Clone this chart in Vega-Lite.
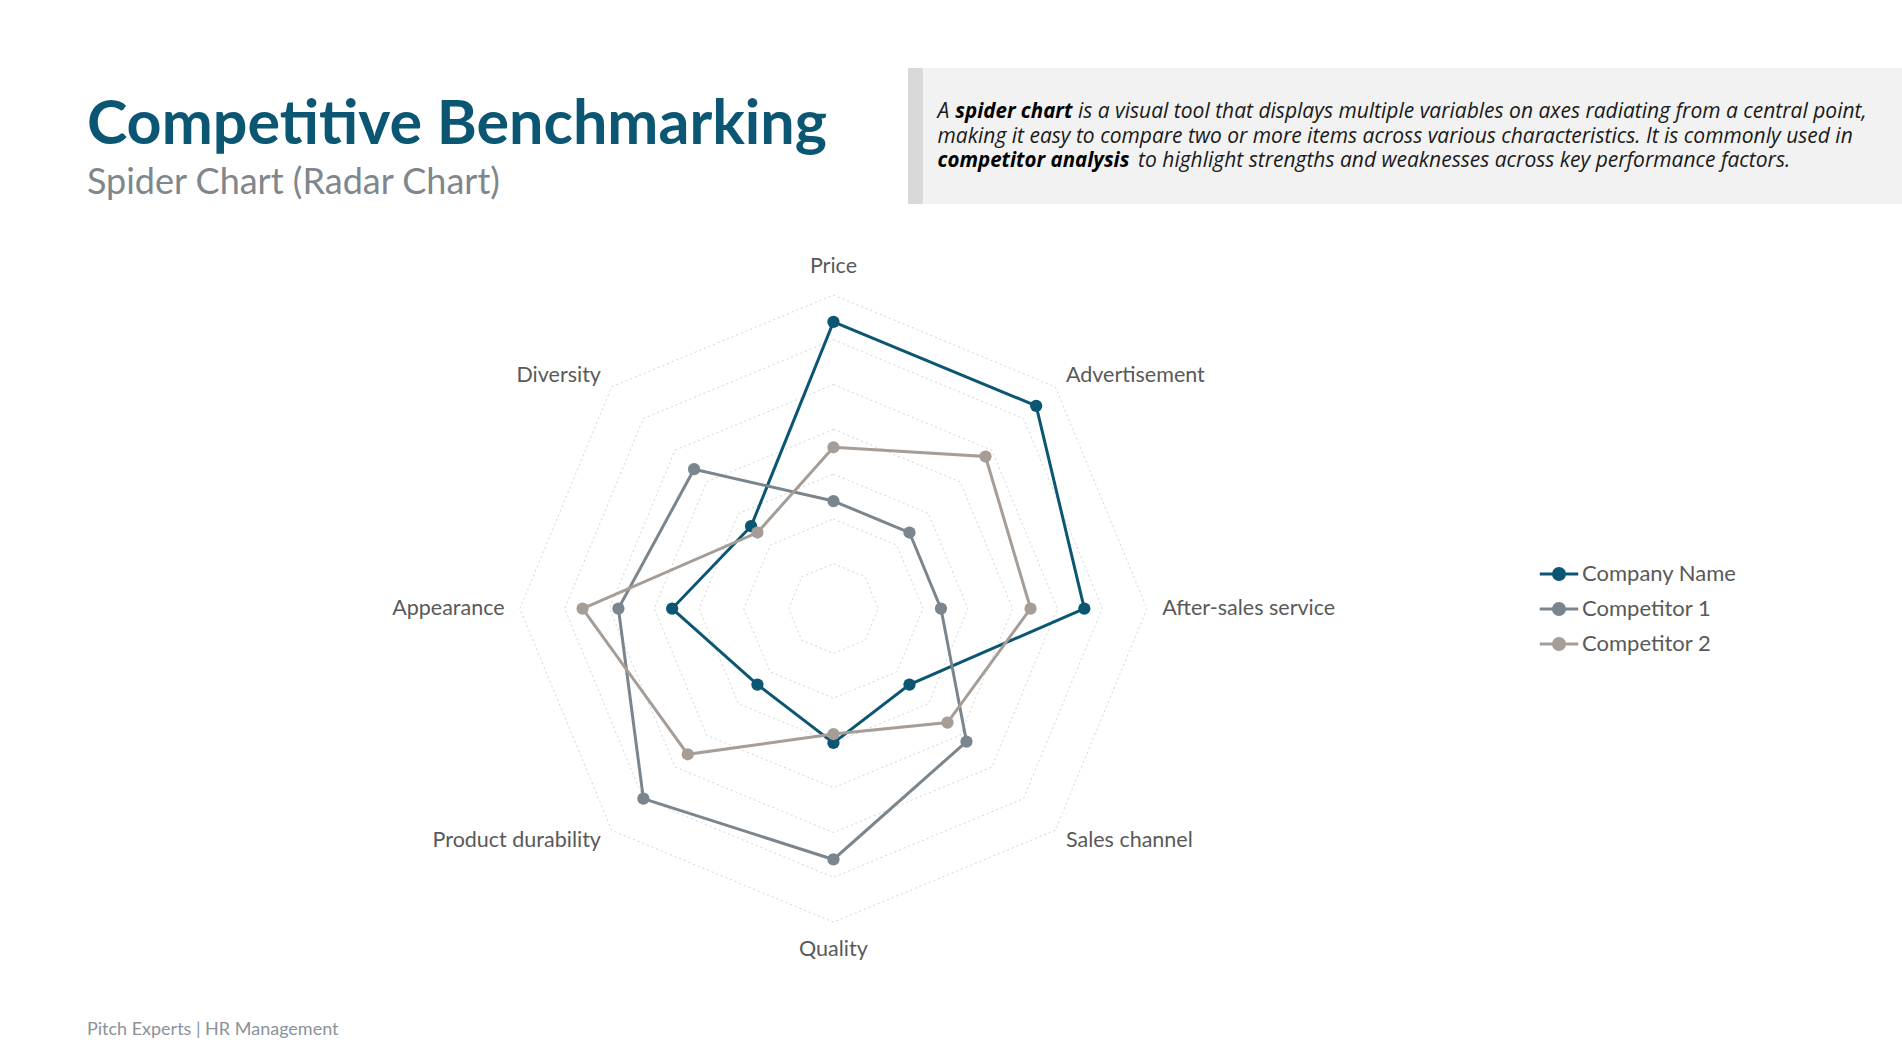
{
  "$schema": "https://vega.github.io/schema/vega-lite/v6.json",
  "width": 1902,
  "height": 1058,
  "autosize": {"type": "fit", "contains": "padding"},
  "padding": 0,
  "background": "white",
  "config": {"view": {"stroke": null}},
  "datasets": {
    "scores": [
      {"series": "Company Name", "axis": "Price", "score": 16},
      {"series": "Company Name", "axis": "Advertisement", "score": 16},
      {"series": "Company Name", "axis": "After-sales service", "score": 14},
      {"series": "Company Name", "axis": "Sales channel", "score": 6},
      {"series": "Company Name", "axis": "Quality", "score": 7.5},
      {"series": "Company Name", "axis": "Product durability", "score": 6},
      {"series": "Company Name", "axis": "Appearance", "score": 9},
      {"series": "Company Name", "axis": "Diversity", "score": 6.5},
      {"series": "Competitor 1", "axis": "Price", "score": 6},
      {"series": "Competitor 1", "axis": "Advertisement", "score": 6},
      {"series": "Competitor 1", "axis": "After-sales service", "score": 6},
      {"series": "Competitor 1", "axis": "Sales channel", "score": 10.5},
      {"series": "Competitor 1", "axis": "Quality", "score": 14},
      {"series": "Competitor 1", "axis": "Product durability", "score": 15},
      {"series": "Competitor 1", "axis": "Appearance", "score": 12},
      {"series": "Competitor 1", "axis": "Diversity", "score": 11},
      {"series": "Competitor 2", "axis": "Price", "score": 9},
      {"series": "Competitor 2", "axis": "Advertisement", "score": 12},
      {"series": "Competitor 2", "axis": "After-sales service", "score": 11},
      {"series": "Competitor 2", "axis": "Sales channel", "score": 9},
      {"series": "Competitor 2", "axis": "Quality", "score": 7},
      {"series": "Competitor 2", "axis": "Product durability", "score": 11.5},
      {"series": "Competitor 2", "axis": "Appearance", "score": 14},
      {"series": "Competitor 2", "axis": "Diversity", "score": 6}
    ],
    "axes": [
      {"axis": "Price", "i": 0},
      {"axis": "Advertisement", "i": 1},
      {"axis": "After-sales service", "i": 2},
      {"axis": "Sales channel", "i": 3},
      {"axis": "Quality", "i": 4},
      {"axis": "Product durability", "i": 5},
      {"axis": "Appearance", "i": 6},
      {"axis": "Diversity", "i": 7}
    ],
    "grid": [
      {"level": 2.5, "i": 0}, {"level": 2.5, "i": 1}, {"level": 2.5, "i": 2}, {"level": 2.5, "i": 3}, {"level": 2.5, "i": 4}, {"level": 2.5, "i": 5}, {"level": 2.5, "i": 6}, {"level": 2.5, "i": 7},
      {"level": 5, "i": 0}, {"level": 5, "i": 1}, {"level": 5, "i": 2}, {"level": 5, "i": 3}, {"level": 5, "i": 4}, {"level": 5, "i": 5}, {"level": 5, "i": 6}, {"level": 5, "i": 7},
      {"level": 7.5, "i": 0}, {"level": 7.5, "i": 1}, {"level": 7.5, "i": 2}, {"level": 7.5, "i": 3}, {"level": 7.5, "i": 4}, {"level": 7.5, "i": 5}, {"level": 7.5, "i": 6}, {"level": 7.5, "i": 7},
      {"level": 10, "i": 0}, {"level": 10, "i": 1}, {"level": 10, "i": 2}, {"level": 10, "i": 3}, {"level": 10, "i": 4}, {"level": 10, "i": 5}, {"level": 10, "i": 6}, {"level": 10, "i": 7},
      {"level": 12.5, "i": 0}, {"level": 12.5, "i": 1}, {"level": 12.5, "i": 2}, {"level": 12.5, "i": 3}, {"level": 12.5, "i": 4}, {"level": 12.5, "i": 5}, {"level": 12.5, "i": 6}, {"level": 12.5, "i": 7},
      {"level": 15, "i": 0}, {"level": 15, "i": 1}, {"level": 15, "i": 2}, {"level": 15, "i": 3}, {"level": 15, "i": 4}, {"level": 15, "i": 5}, {"level": 15, "i": 6}, {"level": 15, "i": 7},
      {"level": 17.5, "i": 0}, {"level": 17.5, "i": 1}, {"level": 17.5, "i": 2}, {"level": 17.5, "i": 3}, {"level": 17.5, "i": 4}, {"level": 17.5, "i": 5}, {"level": 17.5, "i": 6}, {"level": 17.5, "i": 7}
    ],
    "notes": [
      {"role": "title", "t": "Competitive Benchmarking"},
      {"role": "subtitle", "t": "Spider Chart (Radar Chart)"},
      {"role": "footer", "t": "Pitch Experts  |  HR Management"},
      {"role": "d1a", "t": "A"},
      {"role": "d1b", "t": "spider chart"},
      {"role": "d1c", "t": "is a visual tool that displays multiple variables on axes radiating from a central point,"},
      {"role": "d2", "t": "making it easy to compare two or more items across various characteristics. It is commonly used in"},
      {"role": "d3a", "t": "competitor analysis"},
      {"role": "d3b", "t": "to highlight strengths and weaknesses across key performance factors."}
    ]
  },
  "layer": [
    {
      "data": {"values": [{"box": "description"}]},
      "mark": {"type": "rect", "fill": "#F2F2F2"},
      "encoding": {
        "x": {"datum": 4.157, "type": "quantitative", "scale": {"domain": [-46.51, 59.63], "nice": false, "zero": false}, "axis": null},
        "x2": {"datum": 59.63},
        "y": {"datum": 30.16, "type": "quantitative", "scale": {"domain": [-25.08, 33.96], "nice": false, "zero": false}, "axis": null},
        "y2": {"datum": 22.57}
      }
    },
    {
      "data": {"values": [{"box": "strip"}]},
      "mark": {"type": "rect", "fill": "#D9D9D9"},
      "encoding": {
        "x": {"datum": 4.157, "type": "quantitative", "scale": {"domain": [-46.51, 59.63], "nice": false, "zero": false}, "axis": null},
        "x2": {"datum": 4.994},
        "y": {"datum": 30.16, "type": "quantitative", "scale": {"domain": [-25.08, 33.96], "nice": false, "zero": false}, "axis": null},
        "y2": {"datum": 22.57}
      }
    },
    {
      "data": {"name": "grid"},
      "transform": [
        {"calculate": "datum.level*sin(datum.i*PI/4)", "as": "gx"},
        {"calculate": "datum.level*cos(datum.i*PI/4)", "as": "gy"}
      ],
      "mark": {"type": "line", "interpolate": "linear-closed", "stroke": "#D4D4D4", "strokeWidth": 1, "strokeDash": [2, 3]},
      "encoding": {
        "x": {"field": "gx", "type": "quantitative", "scale": {"domain": [-46.51, 59.63], "nice": false, "zero": false}, "axis": null},
        "y": {"field": "gy", "type": "quantitative", "scale": {"domain": [-25.08, 33.96], "nice": false, "zero": false}, "axis": null},
        "detail": {"field": "level", "type": "nominal"},
        "order": {"field": "i", "type": "quantitative"}
      }
    },
    {
      "data": {"name": "scores"},
      "transform": [
        {"lookup": "axis", "from": {"data": {"name": "axes"}, "key": "axis", "fields": ["i"]}},
        {"calculate": "datum.score*sin(datum.i*PI/4)", "as": "px"},
        {"calculate": "datum.score*cos(datum.i*PI/4)", "as": "py"}
      ],
      "mark": {"type": "line", "interpolate": "linear-closed", "strokeWidth": 3},
      "encoding": {
        "x": {"field": "px", "type": "quantitative", "scale": {"domain": [-46.51, 59.63], "nice": false, "zero": false}, "axis": null},
        "y": {"field": "py", "type": "quantitative", "scale": {"domain": [-25.08, 33.96], "nice": false, "zero": false}, "axis": null},
        "color": {
          "field": "series", "type": "nominal",
          "scale": {"domain": ["Company Name", "Competitor 1", "Competitor 2"], "range": ["#0B5672", "#7A858D", "#A69D97"]},
          "legend": {
            "orient": "none", "legendX": 1540, "legendY": 555, "title": null, "padding": 0,
            "symbolType": "M-1.1,0H1.1M0.32,0A0.32,0.32,0,1,1,-0.32,0A0.32,0.32,0,1,1,0.32,0Z",
            "symbolSize": 1225, "symbolStrokeWidth": 2.8, "rowPadding": 4, "labelOffset": 4,
            "labelFont": "Lato", "labelFontSize": 22, "labelColor": "#595959",
            "encode": {"symbols": {"update": {"fill": {"scale": "color", "field": "value"}, "stroke": {"scale": "color", "field": "value"}}}}
          }
        },
        "order": {"field": "i", "type": "quantitative"}
      }
    },
    {
      "data": {"name": "scores"},
      "transform": [
        {"lookup": "axis", "from": {"data": {"name": "axes"}, "key": "axis", "fields": ["i"]}},
        {"calculate": "datum.score*sin(datum.i*PI/4)", "as": "px"},
        {"calculate": "datum.score*cos(datum.i*PI/4)", "as": "py"}
      ],
      "mark": {"type": "point", "shape": "circle", "filled": true, "opacity": 1, "size": 150},
      "encoding": {
        "x": {"field": "px", "type": "quantitative", "scale": {"domain": [-46.51, 59.63], "nice": false, "zero": false}, "axis": null},
        "y": {"field": "py", "type": "quantitative", "scale": {"domain": [-25.08, 33.96], "nice": false, "zero": false}, "axis": null},
        "color": {
          "field": "series", "type": "nominal",
          "scale": {"domain": ["Company Name", "Competitor 1", "Competitor 2"], "range": ["#0B5672", "#7A858D", "#A69D97"]},
          "legend": {
            "orient": "none", "legendX": 1540, "legendY": 555, "title": null, "padding": 0,
            "symbolType": "M-1.1,0H1.1M0.32,0A0.32,0.32,0,1,1,-0.32,0A0.32,0.32,0,1,1,0.32,0Z",
            "symbolSize": 1225, "symbolStrokeWidth": 2.8, "rowPadding": 4, "labelOffset": 4,
            "labelFont": "Lato", "labelFontSize": 22, "labelColor": "#595959",
            "encode": {"symbols": {"update": {"fill": {"scale": "color", "field": "value"}, "stroke": {"scale": "color", "field": "value"}}}}
          }
        }
      }
    },
    {
      "data": {"name": "axes"},
      "transform": [
        {"filter": "datum.i >= 1 && datum.i <= 3"},
        {"calculate": "18.35*sin(datum.i*PI/4)", "as": "lx"},
        {"calculate": "18.35*cos(datum.i*PI/4)", "as": "ly"}
      ],
      "mark": {"type": "text", "align": "left", "baseline": "middle", "font": "Lato", "fontSize": 21.5, "color": "#595959"},
      "encoding": {
        "x": {"field": "lx", "type": "quantitative", "scale": {"domain": [-46.51, 59.63], "nice": false, "zero": false}, "axis": null},
        "y": {"field": "ly", "type": "quantitative", "scale": {"domain": [-25.08, 33.96], "nice": false, "zero": false}, "axis": null},
        "text": {"field": "axis"}
      }
    },
    {
      "data": {"name": "axes"},
      "transform": [
        {"filter": "datum.i >= 5"},
        {"calculate": "18.35*sin(datum.i*PI/4)", "as": "lx"},
        {"calculate": "18.35*cos(datum.i*PI/4)", "as": "ly"}
      ],
      "mark": {"type": "text", "align": "right", "baseline": "middle", "font": "Lato", "fontSize": 21.5, "color": "#595959"},
      "encoding": {
        "x": {"field": "lx", "type": "quantitative", "scale": {"domain": [-46.51, 59.63], "nice": false, "zero": false}, "axis": null},
        "y": {"field": "ly", "type": "quantitative", "scale": {"domain": [-25.08, 33.96], "nice": false, "zero": false}, "axis": null},
        "text": {"field": "axis"}
      }
    },
    {
      "data": {"name": "axes"},
      "transform": [
        {"filter": "datum.i == 0 || datum.i == 4"},
        {"calculate": "19.05*sin(datum.i*PI/4)", "as": "lx"},
        {"calculate": "19.05*cos(datum.i*PI/4)", "as": "ly"}
      ],
      "mark": {"type": "text", "align": "center", "baseline": "middle", "font": "Lato", "fontSize": 21.5, "color": "#595959"},
      "encoding": {
        "x": {"field": "lx", "type": "quantitative", "scale": {"domain": [-46.51, 59.63], "nice": false, "zero": false}, "axis": null},
        "y": {"field": "ly", "type": "quantitative", "scale": {"domain": [-25.08, 33.96], "nice": false, "zero": false}, "axis": null},
        "text": {"field": "axis"}
      }
    },
    {
      "data": {"name": "notes"},
      "transform": [{"filter": "datum.role == 'title'"}],
      "mark": {"type": "text", "align": "left", "baseline": "alphabetic", "font": "Lato", "fontWeight": "bold", "fontSize": 61, "color": "#0B5672"},
      "encoding": {
        "x": {"datum": -41.66, "type": "quantitative", "scale": {"domain": [-46.51, 59.63], "nice": false, "zero": false}, "axis": null},
        "y": {"datum": 25.92, "type": "quantitative", "scale": {"domain": [-25.08, 33.96], "nice": false, "zero": false}, "axis": null},
        "text": {"field": "t"}
      }
    },
    {
      "data": {"name": "notes"},
      "transform": [{"filter": "datum.role == 'subtitle'"}],
      "mark": {"type": "text", "align": "left", "baseline": "alphabetic", "font": "Lato", "fontSize": 36, "color": "#7F878C"},
      "encoding": {
        "x": {"datum": -41.66, "type": "quantitative", "scale": {"domain": [-46.51, 59.63], "nice": false, "zero": false}, "axis": null},
        "y": {"datum": 23.13, "type": "quantitative", "scale": {"domain": [-25.08, 33.96], "nice": false, "zero": false}, "axis": null},
        "text": {"field": "t"}
      }
    },
    {
      "data": {"name": "notes"},
      "transform": [{"filter": "datum.role == 'footer'"}],
      "mark": {"type": "text", "align": "left", "baseline": "middle", "font": "Lato", "fontSize": 18, "color": "#8A9399"},
      "encoding": {
        "x": {"datum": -41.66, "type": "quantitative", "scale": {"domain": [-46.51, 59.63], "nice": false, "zero": false}, "axis": null},
        "y": {"datum": -23.52, "type": "quantitative", "scale": {"domain": [-25.08, 33.96], "nice": false, "zero": false}, "axis": null},
        "text": {"field": "t"}
      }
    },
    {
      "data": {"name": "notes"},
      "transform": [{"filter": "datum.role == 'd1a'"}],
      "mark": {"type": "text", "align": "left", "baseline": "middle", "font": "Open Sans", "fontStyle": "italic", "fontSize": 21, "color": "#1A1A1A"},
      "encoding": {
        "x": {"datum": 5.809, "type": "quantitative", "scale": {"domain": [-46.51, 59.63], "nice": false, "zero": false}, "axis": null},
        "y": {"datum": 27.69, "type": "quantitative", "scale": {"domain": [-25.08, 33.96], "nice": false, "zero": false}, "axis": null},
        "text": {"field": "t"}
      }
    },
    {
      "data": {"name": "notes"},
      "transform": [{"filter": "datum.role == 'd1b'"}],
      "mark": {"type": "text", "align": "left", "baseline": "middle", "font": "Open Sans", "fontStyle": "italic", "fontWeight": "bold", "fontSize": 20.5, "color": "#000000"},
      "encoding": {
        "x": {"datum": 6.8, "type": "quantitative", "scale": {"domain": [-46.51, 59.63], "nice": false, "zero": false}, "axis": null},
        "y": {"datum": 27.69, "type": "quantitative", "scale": {"domain": [-25.08, 33.96], "nice": false, "zero": false}, "axis": null},
        "text": {"field": "t"}
      }
    },
    {
      "data": {"name": "notes"},
      "transform": [{"filter": "datum.role == 'd1c'"}],
      "mark": {"type": "text", "align": "left", "baseline": "middle", "font": "Open Sans", "fontStyle": "italic", "fontSize": 21, "color": "#1A1A1A"},
      "encoding": {
        "x": {"datum": 13.644, "type": "quantitative", "scale": {"domain": [-46.51, 59.63], "nice": false, "zero": false}, "axis": null},
        "y": {"datum": 27.69, "type": "quantitative", "scale": {"domain": [-25.08, 33.96], "nice": false, "zero": false}, "axis": null},
        "text": {"field": "t"}
      }
    },
    {
      "data": {"name": "notes"},
      "transform": [{"filter": "datum.role == 'd2'"}],
      "mark": {"type": "text", "align": "left", "baseline": "middle", "font": "Open Sans", "fontStyle": "italic", "fontSize": 21, "color": "#1A1A1A"},
      "encoding": {
        "x": {"datum": 5.809, "type": "quantitative", "scale": {"domain": [-46.51, 59.63], "nice": false, "zero": false}, "axis": null},
        "y": {"datum": 26.323, "type": "quantitative", "scale": {"domain": [-25.08, 33.96], "nice": false, "zero": false}, "axis": null},
        "text": {"field": "t"}
      }
    },
    {
      "data": {"name": "notes"},
      "transform": [{"filter": "datum.role == 'd3a'"}],
      "mark": {"type": "text", "align": "left", "baseline": "middle", "font": "Open Sans", "fontStyle": "italic", "fontWeight": "bold", "fontSize": 20.5, "color": "#000000"},
      "encoding": {
        "x": {"datum": 5.809, "type": "quantitative", "scale": {"domain": [-46.51, 59.63], "nice": false, "zero": false}, "axis": null},
        "y": {"datum": 24.955, "type": "quantitative", "scale": {"domain": [-25.08, 33.96], "nice": false, "zero": false}, "axis": null},
        "text": {"field": "t"}
      }
    },
    {
      "data": {"name": "notes"},
      "transform": [{"filter": "datum.role == 'd3b'"}],
      "mark": {"type": "text", "align": "left", "baseline": "middle", "font": "Open Sans", "fontStyle": "italic", "fontSize": 21, "color": "#1A1A1A"},
      "encoding": {
        "x": {"datum": 17.0, "type": "quantitative", "scale": {"domain": [-46.51, 59.63], "nice": false, "zero": false}, "axis": null},
        "y": {"datum": 24.955, "type": "quantitative", "scale": {"domain": [-25.08, 33.96], "nice": false, "zero": false}, "axis": null},
        "text": {"field": "t"}
      }
    }
  ]
}
